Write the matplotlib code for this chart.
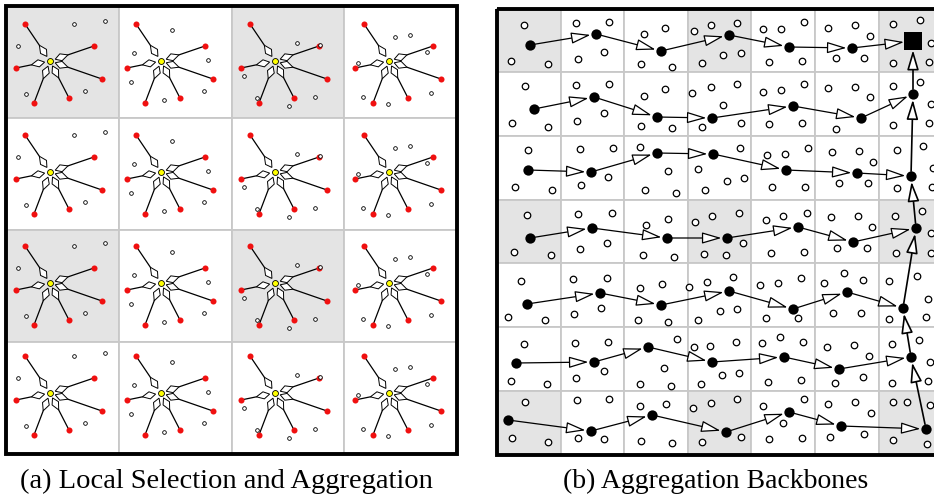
import numpy as np
import matplotlib
matplotlib.use('Agg')
import matplotlib.pyplot as plt
from matplotlib.patches import Rectangle, Polygon

W, H = 934, 501

# ---------------- (a) local selection: 4x4 cells, one star per cell ----------------
a_left, a_top, a_right, a_bottom = 6, 5.5, 457, 454
a_rows, a_cols = 4, 4
a_shaded = [(0, 0), (0, 2), (2, 0), (2, 2)]

hub_x = [50, 161, 275, 389]
hub_y = [61, 172, 283, 393]

# selected nodes around each hub (offset from hub, px)
head_dx = [-25, 44, -34, 52, 19, -16]
head_dy = [-37, -15, 7, 18, 37, 42]

# idle sensors, one layout per column (offset from hub, px)
idle_dx = [[24, 55, -32, 35, -24],
           [11, -27, 47, -30, 43, 3],
           [22, 45, -31, -18, 40, 14],
           [6, 21, -31, 38, -26, 42, -1]]
idle_dy = [[-37, -40, -15, 30, 33],
           [-31, -8, -1, 21, 30, 39],
           [-18, -16, 15, 37, 36, 45],
           [-24, -26, 2, -9, 36, 32, 43]]

# ---------------- (b) aggregation backbones: 7x7 cells ----------------
b_left, b_top, b_bottom = 497, 8.5, 454.5
b_cell = 63.6
b_rows, b_cols = 7, 7
b_shaded_rows = [0, 3, 6]
b_shaded_cols = [0, 3, 6]

sink = (913, 41)
bb_x = [[530, 596, 661, 729, 789, 852],
        [534, 594, 657, 712, 793, 861, 913],
        [528, 591, 657, 713, 786, 857, 911],
        [530, 592, 667, 727, 798, 853, 916],
        [527, 600, 661, 729, 793, 847, 903],
        [516, 594, 648, 712, 784, 839, 911],
        [508, 591, 652, 726, 789, 841, 926]]
bb_y = [[45, 34, 51, 35, 47, 48],
        [109, 97, 117, 118, 106, 118, 94],
        [170, 172, 153, 154, 170, 173, 176],
        [238, 228, 238, 238, 227, 242, 228],
        [304, 293, 305, 291, 309, 292, 308],
        [363, 362, 347, 362, 357, 369, 357],
        [420, 431, 415, 432, 412, 426, 429]]

free_r0 = [(524, 25), (511, 61), (548, 64), (576, 23), (609, 22), (578, 59), (604, 52),
           (644, 34), (665, 28), (641, 64), (672, 67), (694, 31), (711, 25), (702, 63),
           (737, 23), (723, 55), (741, 53), (763, 29), (781, 29), (804, 22), (769, 62),
           (802, 61), (828, 28), (855, 25), (870, 36), (836, 58), (864, 58), (893, 24),
           (920, 20), (931, 43), (893, 63), (929, 62)]
free_r1 = [(525, 86), (512, 123), (548, 127), (576, 85), (609, 84), (577, 121), (604, 113),
           (644, 96), (665, 89), (641, 126), (672, 128), (692, 93), (711, 87), (702, 127),
           (737, 84), (723, 105), (741, 123), (763, 92), (781, 90), (804, 84), (769, 124),
           (802, 123), (828, 88), (855, 87), (870, 97), (836, 129), (893, 86), (920, 82),
           (931, 104), (893, 125), (929, 123)]
free_r2 = [(528, 150), (515, 187), (552, 190), (580, 149), (613, 148), (581, 185), (608, 177),
           (640, 147), (668, 171), (645, 190), (676, 193), (698, 169), (705, 190), (740, 148),
           (727, 181), (744, 178), (767, 155), (785, 154), (808, 148), (772, 187), (805, 187),
           (832, 152), (859, 151), (873, 162), (839, 183), (868, 183), (897, 150), (923, 146),
           (933, 168), (897, 188), (932, 187)]
free_r3 = [(527, 215), (514, 252), (551, 255), (578, 214), (612, 213), (607, 243), (580, 249),
           (646, 225), (668, 219), (643, 255), (674, 257), (695, 222), (712, 216), (704, 254),
           (739, 213), (743, 243), (726, 255), (766, 220), (783, 216), (807, 213), (771, 253),
           (804, 252), (831, 217), (858, 216), (872, 227), (837, 248), (867, 248), (895, 216),
           (922, 211), (931, 233), (896, 253), (931, 253)]
free_r4 = [(521, 281), (508, 317), (545, 320), (573, 279), (607, 278), (574, 314), (601, 308),
           (640, 288), (662, 284), (638, 320), (668, 322), (689, 287), (707, 282), (698, 320),
           (733, 277), (720, 311), (737, 309), (760, 285), (778, 283), (801, 278), (766, 318),
           (798, 318), (824, 283), (844, 273), (863, 280), (833, 313), (861, 313), (889, 281),
           (917, 276), (928, 299), (889, 319), (926, 317)]
free_r5 = [(524, 344), (511, 381), (547, 384), (575, 343), (608, 342), (576, 378), (604, 371),
           (677, 339), (664, 368), (640, 384), (671, 386), (694, 347), (710, 346), (701, 384),
           (736, 342), (722, 375), (739, 373), (762, 343), (780, 337), (803, 342), (768, 382),
           (801, 380), (827, 347), (854, 345), (869, 356), (835, 383), (863, 377), (892, 344),
           (919, 340), (930, 362), (892, 383), (928, 381)]
free_r6 = [(525, 402), (512, 438), (548, 442), (577, 400), (609, 399), (578, 438), (604, 439),
           (640, 406), (666, 404), (641, 441), (672, 443), (693, 408), (711, 403), (702, 442),
           (737, 399), (741, 437), (763, 406), (783, 423), (804, 399), (769, 439), (802, 438),
           (828, 404), (855, 402), (871, 413), (830, 437), (864, 434), (893, 402), (907, 402),
           (930, 405), (893, 440), (927, 444)]

caption_a = "(a) Local Selection and Aggregation"
caption_b = "(b) Aggregation Backbones"

GRID = '#c8c8c8'
SHADE = '#e4e4e4'

fig = plt.figure(figsize=(W / 100, H / 100), dpi=100)
ax = fig.add_axes([0, 0, 1, 1])
ax.set_xlim(0, W)
ax.set_ylim(H, 0)
ax.axis('off')


def grid_panel(x0, y0, cw, ch, nrows, ncols, shaded):
    for r in range(nrows):
        for c in range(ncols):
            fc = SHADE if (r, c) in shaded else 'white'
            ax.add_patch(Rectangle((x0 + c * cw, y0 + r * ch), cw, ch, fc=fc,
                                   ec=GRID, lw=1.3, zorder=0))


def kite(hx, hy, px, py, gap=5.5, length=13.5, half_w=3.6):
    # open diamond arrowhead pointing at the hub; returns polygon + back point
    d = np.array([hx - px, hy - py], dtype=float)
    u = d / np.hypot(*d)
    n = np.array([-u[1], u[0]])
    tip = np.array([hx, hy]) - u * gap
    back = tip - u * length
    mid = tip - u * length * 0.45
    return np.array([tip, mid + n * half_w, back, mid - n * half_w]), back


# ---- panel (a) ----
a_cw = (a_right - a_left) / a_cols
a_ch = (a_bottom - a_top) / a_rows
grid_panel(a_left, a_top, a_cw, a_ch, a_rows, a_cols, a_shaded)

for r in range(a_rows):
    for c in range(a_cols):
        cx, cy = hub_x[c], hub_y[r]
        hx = cx + np.array(head_dx)
        hy = cy + np.array(head_dy)
        for px, py in zip(hx, hy):
            poly, back = kite(cx, cy, px, py)
            ax.plot([px, back[0]], [py, back[1]], color='black', lw=0.9, zorder=2)
            ax.add_patch(Polygon(poly, closed=True, fc='white', ec='black', lw=0.7, zorder=3))
        ax.scatter(hx, hy, s=19, color='#f01010', zorder=4, linewidths=0)
        ax.scatter(cx + np.array(idle_dx[c]), cy + np.array(idle_dy[c]), s=7,
                   facecolor='white', edgecolor='black', linewidths=0.6, zorder=4)
        ax.scatter([cx], [cy], s=18, facecolor='#ffff00', edgecolor='black',
                   linewidths=0.6, zorder=5)

ax.add_patch(Rectangle((a_left, a_top), a_right - a_left, a_bottom - a_top,
                       fill=False, ec='black', lw=2.8, zorder=6))

# ---- panel (b) ----
b_shaded = [(r, c) for r in b_shaded_rows for c in b_shaded_cols]
grid_panel(b_left, b_top, b_cell, (b_bottom - b_top) / b_rows, b_rows, b_cols, b_shaded)

arrow_kw = dict(arrowstyle='-|>,head_length=0.75,head_width=0.22', mutation_scale=16,
                facecolor='white', edgecolor='black', lw=0.9, shrinkA=3.5, shrinkB=4.0)


def link(p, q, **extra):
    kw = dict(arrow_kw)
    kw.update(extra)
    ax.annotate('', xy=q, xytext=p, arrowprops=kw, zorder=2)


for r, (xs, ys) in enumerate(zip(bb_x, bb_y)):
    pts = list(zip(xs, ys))
    if r == 0:
        pts.append(sink)
    for p, q in zip(pts[:-1], pts[1:]):
        link(p, q, shrinkB=6.5 if q == sink else 4.0)

# column of last-cell nodes relaying up to the sink
relay = [(bb_x[r][-1], bb_y[r][-1]) for r in range(6, 0, -1)] + [sink]
for p, q in zip(relay[:-1], relay[1:]):
    link(p, q, lw=1.2, shrinkB=6.5 if q == sink else 4.0)

for pts in [free_r0, free_r1, free_r2, free_r3, free_r4, free_r5, free_r6]:
    fx, fy = zip(*pts)
    ax.scatter(fx, fy, s=22, facecolor='white', edgecolor='black', linewidths=0.9, zorder=3)

for xs, ys in zip(bb_x, bb_y):
    ax.scatter(xs, ys, s=55, color='black', zorder=4, linewidths=0)
ax.scatter([sink[0]], [sink[1]], s=150, marker='s', color='black', zorder=4, linewidths=0)

ax.add_patch(Rectangle((b_left, b_top), b_cell * b_cols, b_bottom - b_top,
                       fill=False, ec='black', lw=2.8, zorder=6, clip_on=True))

ax.text(226, 481, caption_a, ha='center', va='center',
        fontsize=20.5, family='Liberation Serif')
ax.text(716, 481, caption_b, ha='center', va='center',
        fontsize=20, family='Liberation Serif')

fig.savefig('out.png', dpi=100)
